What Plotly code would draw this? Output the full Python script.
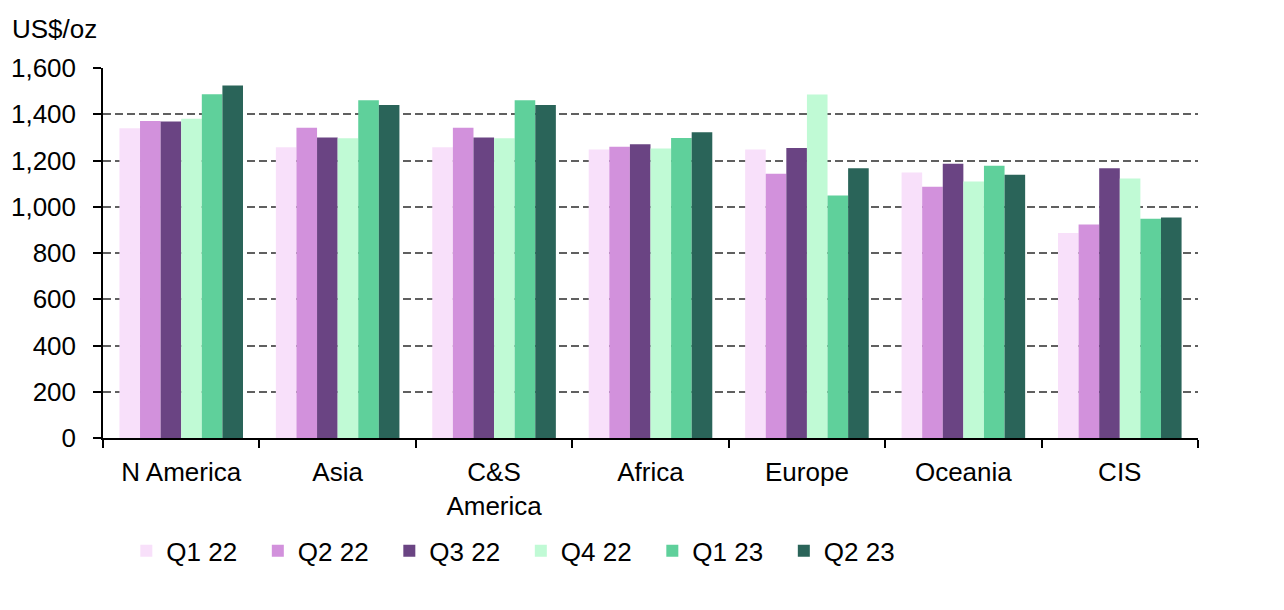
import plotly.graph_objects as go

regions = ["N America", "Asia", "C&S<br>America", "Africa", "Europe", "Oceania", "CIS"]
series_names = ["Q1 22", "Q2 22", "Q3 22", "Q4 22", "Q1 23", "Q2 23"]
q1_22 = [1339, 1257, 1257, 1248, 1248, 1148, 886]
q2_22 = [1371, 1342, 1342, 1260, 1143, 1087, 923]
q3_22 = [1369, 1300, 1300, 1270, 1254, 1186, 1166]
q4_22 = [1381, 1296, 1296, 1252, 1485, 1109, 1122]
q1_23 = [1487, 1461, 1461, 1297, 1049, 1177, 948]
q2_23 = [1524, 1440, 1440, 1322, 1167, 1138, 953]
colors = ["#F8E0FA", "#D291DC", "#6A4483", "#C0FAD5", "#5FD09B", "#2A6459"]
y_ticks = [0, 200, 400, 600, 800, 1000, 1200, 1400, 1600]

values = [q1_22, q2_22, q3_22, q4_22, q1_23, q2_23]

font_family = "Liberation Sans, Arial, sans-serif"

fig = go.Figure()
for name, vals, col in zip(series_names, values, colors):
    fig.add_trace(go.Bar(
        x=regions, y=vals, name=name,
        marker=dict(color=col, line=dict(width=0)),
    ))

fig.update_layout(
    width=1284, height=610,
    margin=dict(l=95, r=94, t=60, b=180),
    paper_bgcolor="white", plot_bgcolor="white",
    barmode="group", bargap=0.21, bargroupgap=0,
    font=dict(family=font_family, size=26, color="black"),
    showlegend=True,
    legend=dict(
        orientation="h", x=0.0213, xanchor="left", y=-0.305, yanchor="middle",
        font=dict(size=26), entrywidth=86.5, entrywidthmode="pixels",
        traceorder="normal", bgcolor="rgba(0,0,0,0)",
    ),
    annotations=[dict(
        text="US$/oz", xref="paper", yref="paper", x=-0.085, y=1.105,
        xanchor="left", yanchor="middle", showarrow=False,
        font=dict(size=26, color="black"),
    )],
)

fig.update_xaxes(
    type="category", showline=True, linecolor="black", linewidth=1.5,
    ticks="outside", tickson="boundaries", ticklen=8, tickwidth=1.5, tickcolor="black",
    ticklabelstandoff=10, automargin=False,
    showgrid=False, mirror=False,
)
fig.update_yaxes(
    range=[0, 1600], tickvals=y_ticks, tickformat=",",
    showline=True, linecolor="black", linewidth=1.5,
    ticks="outside", ticklen=8, tickwidth=1.5, tickcolor="black",
    ticklabelstandoff=12, automargin=False,
    showgrid=True, gridcolor="#606060", gridwidth=2, griddash="8px,4px",
    zeroline=False,
)

fig.write_html("out.html")
